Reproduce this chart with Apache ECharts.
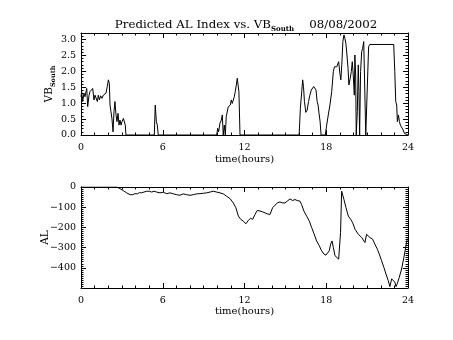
<!DOCTYPE html>
<html>
<head>
<meta charset="utf-8">
<script src="https://cdn.jsdelivr.net/npm/echarts@6/dist/echarts.min.js"></script>
<style>
html, body { margin: 0; padding: 0; background: #ffffff; }
#chart { width: 453px; height: 340px; }
</style>
</head>
<body>
<div id="chart"></div>
<script>
// Time axis (hours of the day)
const hourTicks = [0, 6, 12, 18, 24];
const vbTicks = [0.0, 0.5, 1.0, 1.5, 2.0, 2.5, 3.0];
const alTicks = [0, -100, -200, -300, -400];

// Southward IMF component VB_South, [hour, value]
const vbSouth = [
  [0.00,1.20],[0.05,1.36],[0.12,1.05],[0.22,1.31],[0.29,1.20],[0.42,1.46],[0.49,0.89],[0.59,1.25],
  [0.66,1.36],[0.78,1.41],[0.86,1.46],[0.95,1.10],[1.03,1.25],[1.10,1.31],[1.20,1.05],[1.27,1.25],
  [1.35,1.10],[1.44,1.23],[1.54,1.15],[1.64,1.25],[1.76,1.25],[1.83,1.31],[1.93,1.52],[2.01,1.73],
  [2.08,1.62],[2.13,0.94],[2.20,0.73],[2.27,0.52],[2.35,0.10],[2.42,0.73],[2.49,1.05],[2.57,0.63],
  [2.64,0.42],[2.72,0.68],[2.79,0.31],[2.86,0.47],[2.94,0.31],[3.01,0.42],[3.11,0.52],[3.18,0.58],
  [3.25,0.31],[3.30,0.00],
  [3.95,0.00],[4.01,0.05],[4.07,0.00],
  [5.38,0.00],[5.45,0.94],[5.53,0.42],[5.60,0.31],[5.67,0.00],
  [9.96,0.00],[10.03,0.21],[10.10,0.10],[10.20,0.37],[10.30,0.47],[10.37,0.63],[10.44,0.00],[10.52,0.31],
  [10.59,0.00],[10.66,0.58],[10.74,0.63],[10.81,0.89],[10.88,0.84],[10.96,0.94],[11.03,1.10],[11.10,0.99],
  [11.18,1.05],[11.25,1.20],[11.32,1.36],[11.40,1.57],[11.47,1.78],[11.52,1.83],[11.59,1.36],[11.67,0.00],
  [14.18,0.00],[14.24,0.05],[14.30,0.00],
  [16.01,0.00],[16.10,0.84],[16.20,1.36],[16.27,1.73],[16.33,1.52],[16.40,1.05],[16.50,0.71],[16.60,0.78],
  [16.70,1.05],[16.80,1.25],[16.90,1.41],[17.00,1.46],[17.08,1.52],[17.18,1.52],[17.25,1.41],[17.33,1.05],
  [17.40,0.94],[17.47,0.68],[17.55,0.42],[17.62,0.00],
  [17.93,0.00],[18.03,0.31],[18.15,0.63],[18.27,0.94],[18.40,1.36],[18.52,1.99],[18.60,2.14],[18.70,2.09],
  [18.77,2.14],[18.84,2.09],[18.91,2.30],[19.00,1.93],[19.07,1.73],[19.14,2.20],[19.22,2.93],[19.30,3.14],
  [19.37,3.03],[19.44,2.88],[19.52,2.51],[19.60,2.09],[19.66,1.57],[19.76,1.78],[19.84,1.99],[19.91,2.30],
  [19.98,1.88],[20.06,1.25],[20.10,2.51],[20.16,1.88],[20.20,0.00],[20.28,0.73],[20.35,2.20],[20.40,1.36],
  [20.45,0.00],[20.52,1.99],[20.60,2.61],[20.67,2.72],[20.75,2.93],[20.82,2.98],[20.90,0.00],[21.02,0.00],
  [21.11,2.77],[21.19,2.84],[22.95,2.84],[23.03,1.99],[23.10,1.05],[23.17,0.94],[23.22,0.42],[23.30,0.63],
  [23.37,0.42],[23.44,0.31],[23.54,0.31],[23.64,0.16],[23.74,0.05],[23.80,0.00],[24.00,0.00]
];

// Predicted AL index (nT), [hour, value]
const alIndex = [
  [0.00,0],[2.62,0],[2.86,-8],[3.10,-18],[3.35,-29],[3.60,-38],[3.80,-38],[3.96,-33],[4.13,-34],
  [4.28,-28],[4.45,-29],[4.62,-25],[4.82,-21],[5.01,-21],[5.19,-25],[5.36,-21],[5.55,-25],[5.80,-29],
  [6.04,-26],[6.29,-33],[6.53,-29],[6.78,-34],[7.02,-38],[7.26,-41],[7.50,-34],[7.75,-38],[8.00,-41],
  [8.24,-38],[8.49,-34],[8.73,-33],[8.98,-31],[9.22,-29],[9.47,-25],[9.71,-21],[9.96,-25],[10.20,-29],
  [10.44,-34],[10.69,-46],[10.93,-57],[11.18,-79],[11.37,-103],[11.55,-144],[11.72,-160],[11.91,-169],
  [12.11,-182],[12.28,-165],[12.45,-155],[12.60,-160],[12.77,-136],[12.94,-116],[13.14,-119],[13.33,-123],
  [13.50,-128],[13.67,-133],[13.87,-136],[14.06,-103],[14.24,-90],[14.41,-79],[14.60,-74],[14.80,-79],
  [14.97,-79],[15.14,-70],[15.34,-59],[15.53,-67],[15.70,-62],[15.87,-67],[16.07,-70],[16.19,-87],
  [16.36,-119],[16.56,-144],[16.76,-169],[16.93,-201],[17.10,-231],[17.29,-267],[17.49,-291],[17.66,-316],
  [17.83,-332],[17.98,-337],[18.08,-332],[18.22,-316],[18.32,-283],[18.42,-267],[18.52,-299],[18.64,-340],
  [18.76,-348],[18.91,-357],[19.00,-365],[19.05,-226],[19.13,-21],[19.20,-29],[19.30,-62],[19.45,-103],
  [19.62,-144],[19.79,-160],[19.94,-177],[20.11,-209],[20.23,-218],[20.35,-234],[20.47,-242],[20.60,-250],
  [20.72,-242],[20.84,-275],[20.96,-234],[21.08,-234],[21.20,-250],[21.40,-258],[21.57,-283],[21.75,-308],
  [21.89,-332],[22.06,-365],[22.23,-398],[22.38,-430],[22.55,-463],[22.67,-493],[22.80,-455],[22.92,-447],
  [23.04,-471],[23.12,-493],[23.21,-479],[23.36,-447],[23.53,-406],[23.70,-348],[23.85,-291],[23.95,-255]
];

const FONT = 'DejaVu Serif';
const INK = '#000000';

function boxAxis(extra) {
  return Object.assign({
    type: 'value',
    axisLine: { show: true, onZero: false, lineStyle: { color: INK, width: 1 } },
    axisTick: { show: true, inside: true, length: 5, lineStyle: { color: INK } },
    minorTick: { show: true, length: 2.5, lineStyle: { color: INK } },
    splitLine: { show: false },
    minorSplitLine: { show: false },
    axisLabel: { show: false },
  }, extra);
}

const tickLabel = { show: true, color: INK, fontFamily: FONT, fontSize: 9.5 };
const hourMinor = { show: true, splitNumber: 6, length: 2.5, lineStyle: { color: INK } };

const chart = echarts.init(document.getElementById('chart'), null, { renderer: 'canvas' });
chart.setOption({
  backgroundColor: '#ffffff',
  animation: false,
  title: {
    text: '{a|Predicted AL Index vs. VB}{s|South}{a|    08/08/2002}',
    left: 241, top: 12, textAlign: 'center',
    textStyle: {
      fontWeight: 'normal',
      rich: {
        a: { fontFamily: FONT, fontSize: 11.8, fontWeight: 'normal', color: INK },
        s: { fontFamily: FONT, fontSize: 7, fontWeight: 'bold', color: INK, padding: [9, 0, 0, 0] }
      }
    }
  },
  grid: [
    { left: 81, top: 33, width: 327, height: 102 },
    { left: 81, top: 187, width: 327, height: 101 }
  ],
  xAxis: [
    boxAxis({ gridIndex: 0, position: 'bottom', min: hourTicks[0], max: hourTicks[hourTicks.length - 1], interval: 6,
      minorTick: hourMinor,
      axisLabel: Object.assign({ margin: 8 }, tickLabel),
      name: 'time(hours)', nameLocation: 'middle', nameGap: 19,
      nameTextStyle: { color: INK, fontFamily: FONT, fontSize: 10 } }),
    boxAxis({ gridIndex: 0, position: 'top', min: 0, max: 24, interval: 6, minorTick: hourMinor }),
    boxAxis({ gridIndex: 1, position: 'bottom', min: hourTicks[0], max: hourTicks[hourTicks.length - 1], interval: 6,
      minorTick: hourMinor,
      axisLabel: Object.assign({ margin: 8 }, tickLabel),
      name: 'time(hours)', nameLocation: 'middle', nameGap: 18,
      nameTextStyle: { color: INK, fontFamily: FONT, fontSize: 10 } }),
    boxAxis({ gridIndex: 1, position: 'top', min: 0, max: 24, interval: 6, minorTick: hourMinor })
  ],
  yAxis: [
    boxAxis({ gridIndex: 0, position: 'left', min: vbTicks[0], max: 3.2, interval: 0.5,
      minorTick: { show: true, splitNumber: 5, length: 2.5, lineStyle: { color: INK } },
      axisLabel: Object.assign({ margin: 5, showMaxLabel: false, formatter: v => v.toFixed(1) }, tickLabel),
      name: '{a|VB}{s|South}', nameLocation: 'middle', nameGap: 24, nameRotate: 90,
      nameMoveOverlap: false,
      nameTextStyle: { rich: {
        a: { fontFamily: FONT, fontSize: 10.5, color: INK },
        s: { fontFamily: FONT, fontSize: 6.5, fontWeight: 'bold', color: INK, padding: [8, 0, 0, 0] }
      } } }),
    boxAxis({ gridIndex: 0, position: 'right', min: 0, max: 3.2, interval: 0.5,
      minorTick: { show: true, splitNumber: 5, length: 2.5, lineStyle: { color: INK } } }),
    boxAxis({ gridIndex: 1, position: 'left', min: -500, max: alTicks[0], interval: 100,
      minorTick: { show: true, splitNumber: 10, length: 2.5, lineStyle: { color: INK } },
      axisLabel: Object.assign({ margin: 5, showMinLabel: false,
        formatter: v => (v < 0 ? '\u2212' + Math.abs(v) : String(v)) }, tickLabel),
      name: 'AL', nameLocation: 'middle', nameGap: 30, nameRotate: 90,
      nameMoveOverlap: false,
      nameTextStyle: { color: INK, fontFamily: FONT, fontSize: 10.5 } }),
    boxAxis({ gridIndex: 1, position: 'right', min: -500, max: 0, interval: 100,
      minorTick: { show: true, splitNumber: 10, length: 2.5, lineStyle: { color: INK } } })
  ],
  series: [
    { type: 'line', xAxisIndex: 0, yAxisIndex: 0, data: vbSouth, showSymbol: false,
      lineStyle: { color: INK, width: 1 }, clip: true },
    { type: 'line', xAxisIndex: 2, yAxisIndex: 2, data: alIndex, showSymbol: false,
      lineStyle: { color: INK, width: 1 }, clip: true }
  ]
});
</script>
</body>
</html>
